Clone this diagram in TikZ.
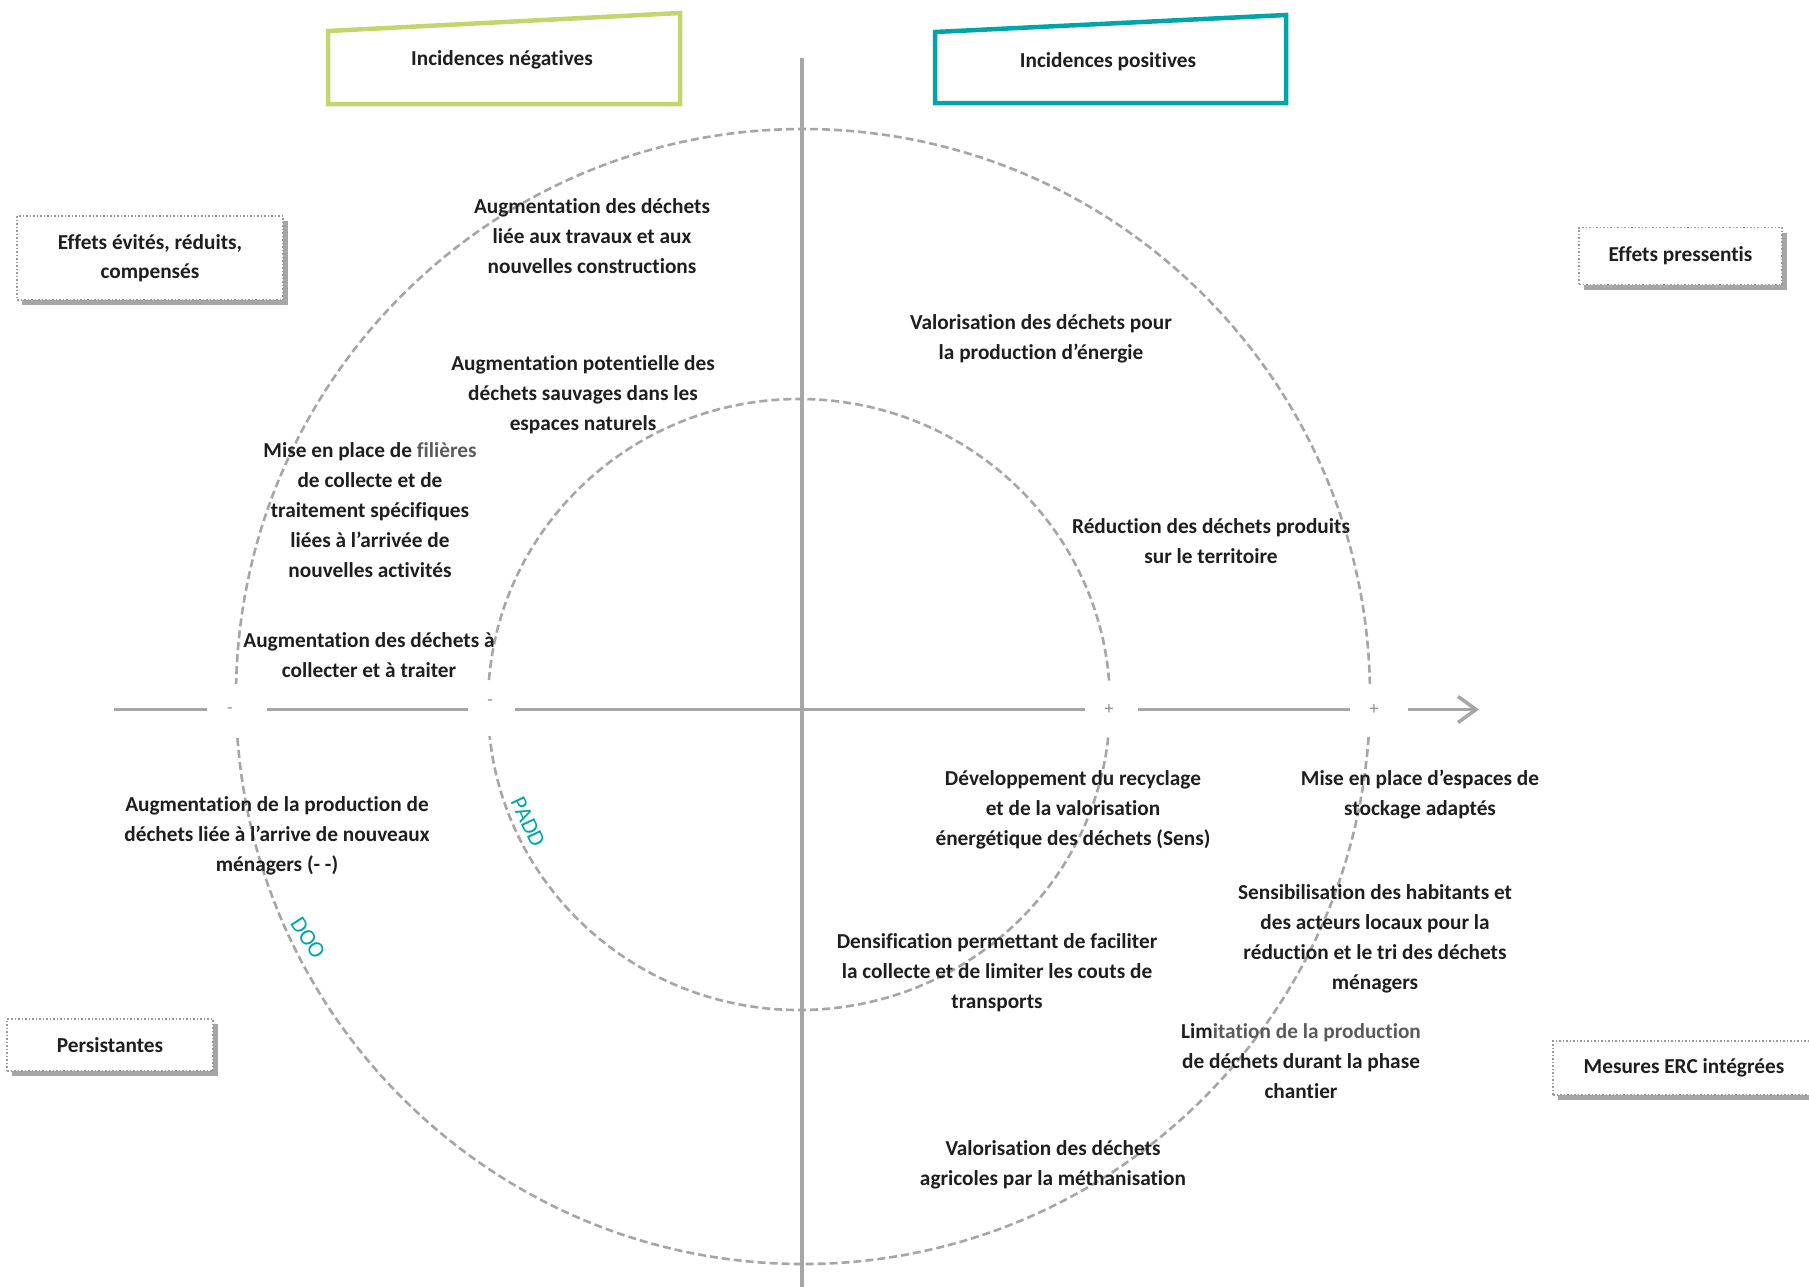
\documentclass[tikz,border=0pt]{standalone}
\usepackage{fontspec}
\setmainfont{Carlito}[Ligatures=NoCommon]
\usetikzlibrary{arrows.meta,shadows}
\definecolor{axisgray}{HTML}{A6A6A6}
\definecolor{markgray}{HTML}{8C8C8C}
\definecolor{dotgray}{HTML}{9A9A9A}
\definecolor{shadowgray}{HTML}{A6A6A6}
\definecolor{textdark}{HTML}{1E1E1E}
\definecolor{softtext}{HTML}{5A5A5A}
\definecolor{neggreen}{HTML}{C3D66E}
\definecolor{posteal}{HTML}{00A5A8}
\begin{document}
\begin{tikzpicture}[x=1pt,y=-1pt,
  axis/.style={draw=axisgray, line width=3.5pt},
  dcircle/.style={draw=axisgray, line width=2.6pt, dash pattern=on 8pt off 4pt},
  gapnode/.style={fill=white, inner sep=0pt, minimum height=52pt},
  marksym/.style={text=markgray, font=\fontsize{18}{18}\selectfont, inner sep=0pt},
  txt/.style={font=\bfseries\fontsize{21.3}{30}\selectfont, align=center, text=textdark, inner sep=0pt},
  sidebox/.style={draw=dotgray, dotted, line width=1.5pt, fill=white, inner sep=0pt,
    align=center, text=textdark, font=\bfseries\fontsize{21.3}{29}\selectfont,
    general shadow={fill=shadowgray, shadow xshift=5pt, shadow yshift=-5pt}},
  rotlabel/.style={text=posteal, font=\fontsize{23}{23}\selectfont, inner sep=0pt}
]
\useasboundingbox (0,0) rectangle (1809,1286);
\clip (0,0) rectangle (1809,1286);

% dashed circles
\draw[dcircle] (803,696.5) ellipse [x radius=567pt, y radius=567.5pt];
\draw[dcircle] (799,704.5) ellipse [x radius=311pt, y radius=305.5pt];

% gaps at the crossings of the circles and the horizontal axis
\node[gapnode, minimum width=60pt] (g1) at (237,709.5) {};
\node[gapnode, minimum width=47pt] (g2) at (491.5,709.5) {};
\node[gapnode, minimum width=53pt] (g3) at (1111.5,709.5) {};
\node[gapnode, minimum width=58pt] (g4) at (1379,709.5) {};
\node[marksym] (s1) at (230,711) {-};
\node[marksym] (s2) at (490,703) {-};
\node[marksym] (s3) at (1109,710) {+};
\node[marksym] (s4) at (1374,710) {+};

% axes
\coordinate (hstart) at (114,709.5);
\coordinate (hend) at (1479,709.5);
\coordinate (vtop) at (802,58);
\coordinate (vbot) at (802,1290);
\draw[axis] (hstart) -- (g1);
\draw[axis] (g1) -- (g2);
\draw[axis] (g2) -- (g3);
\draw[axis] (g3) -- (g4);
\draw[axis, -{Straight Barb[length=18pt, width=26pt, line width=3.5pt]}] (g4) -- (hend);
\draw[axis] (vtop) -- (vbot);

% top title boxes
\draw[draw=neggreen, line width=4.5pt, line join=miter] (328,31) -- (680,13) -- (680,104) -- (328,104) -- cycle;
\node[txt] (neg) at (502,59.5) {Incidences négatives};
\draw[draw=posteal, line width=4.5pt, line join=miter] (935,32) -- (1286,15) -- (1286,103) -- (935,103) -- cycle;
\node[txt] (pos) at (1108,61.5) {Incidences positives};

% side boxes
\node[sidebox, minimum width=266pt, minimum height=84pt] (b1) at (150,258) {Effets évités, réduits,\\compensés};
\node[sidebox, minimum width=203pt, minimum height=57pt] (b2) at (1680.5,256) {Effets pressentis};
\node[sidebox, minimum width=206pt, minimum height=52pt] (b3) at (110,1045) {Persistantes};
\node[sidebox, minimum width=262pt, minimum height=54pt] (b4) at (1684,1068) {Mesures ERC intégrées};

% rotated labels
\node[rotlabel, rotate=-64.5] (padd) at (528,822) {PADD};
\node[rotlabel, rotate=-57] (doo) at (308,938) {DOO};

% texts
\node[txt] (t1) at (592,236.5) {Augmentation des déchets\\liée aux travaux et aux\\nouvelles constructions};
\node[txt] (t2) at (583,395) {Augmentation potentielle des\\déchets sauvages dans les\\espaces naturels};
\node[txt] (t3) at (370,510) {Mise en place de \textcolor{softtext}{filières}\\de collecte et de\\traitement spécifiques\\liées à l’arrivée de\\nouvelles activités};
\node[txt] (t4) at (369,655.5) {Augmentation des déchets à\\collecter et à traiter};
\node[txt] (t5) at (1041,338.5) {Valorisation des déchets pour\\la production d’énergie};
\node[txt] (t6) at (1211,541.5) {Réduction des déchets produits\\sur le territoire};
\node[txt] (t7) at (277,836) {Augmentation de la production de\\déchets liée à l’arrive de nouveaux\\ménagers (- -)};
\node[txt] (t8) at (1073,809.5) {Développement du recyclage\\et de la valorisation\\énergétique des déchets (Sens)};
\node[txt] (t9) at (1420,794.5) {Mise en place d’espaces de\\stockage adaptés};
\node[txt] (t10) at (1375,939) {Sensibilisation des habitants et\\des acteurs locaux pour la\\réduction et le tri des déchets\\ménagers};
\node[txt] (t11) at (997,973) {Densification permettant de faciliter\\la collecte et de limiter les couts de\\transports};
\node[txt] (t12) at (1301,1061.5) {Lim\textcolor{softtext}{itation de la production}\\de déchets durant la phase\\chantier};
\node[txt] (t13) at (1053,1165) {Valorisation des déchets\\agricoles par la méthanisation};
\end{tikzpicture}
\end{document}
